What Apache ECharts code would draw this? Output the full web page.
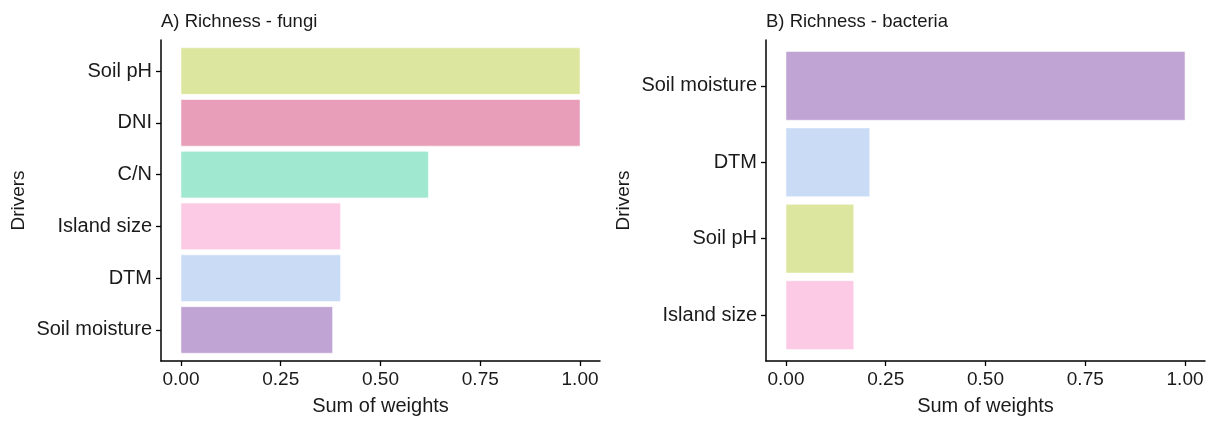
<!DOCTYPE html>
<html>
<head>
<meta charset="utf-8">
<script src="https://cdn.jsdelivr.net/npm/echarts@6/dist/echarts.min.js"></script>
<style>html,body{margin:0;padding:0;background:#fff}#c{width:1214px;height:421px}</style>
</head>
<body>
<div id="c"></div>
<script>
// ---- data ----
const fungiCategories = ['Soil pH', 'DNI', 'C/N', 'Island size', 'DTM', 'Soil moisture'];
const fungiValues = [1.0, 1.0, 0.62, 0.40, 0.40, 0.38];
const bacteriaCategories = ['Soil moisture', 'DTM', 'Soil pH', 'Island size'];
const bacteriaValues = [1.0, 0.21, 0.17, 0.17];
const xTicks = [0, 0.25, 0.5, 0.75, 1.0];
const xTickLabels = ['0.00', '0.25', '0.50', '0.75', '1.00'];

// ---- styles ----
const driverColors = {
  'Soil pH': '#dde69e',
  'DNI': '#e89db8',
  'C/N': '#a0e8cf',
  'Island size': '#fccae5',
  'DTM': '#c9dbf5',
  'Soil moisture': '#c0a4d4'
};
const FONT = '"Liberation Sans", Arial, sans-serif';
const TXT = '#1a1a1a';

function makeX(gridIndex) {
  return {
    type: 'value', gridIndex, min: -0.05, max: 1.05,
    name: 'Sum of weights', nameLocation: 'middle', nameGap: 35,
    nameTextStyle: { fontFamily: FONT, fontSize: 20, color: TXT },
    axisLine: { show: true, onZero: false, lineStyle: { color: '#000', width: 1.5 } },
    axisTick: { show: true, length: 5, lineStyle: { color: '#000', width: 1.3 }, customValues: xTicks },
    axisLabel: { fontFamily: FONT, fontSize: 19, color: TXT, margin: 9, customValues: xTicks,
      formatter: v => xTickLabels[xTicks.indexOf(v)] },
    splitLine: { show: false }
  };
}
function makeY(gridIndex, cats) {
  const idx = cats.map((_, i) => i);
  return {
    type: 'value', gridIndex, min: -0.6, max: cats.length - 0.4, inverse: true,
    name: 'Drivers', nameLocation: 'middle', nameGap: 133, nameRotate: 90,
    nameTextStyle: { fontFamily: FONT, fontSize: 19, color: TXT },
    axisLine: { show: true, onZero: false, lineStyle: { color: '#000', width: 1.5 } },
    axisTick: { show: true, length: 5, lineStyle: { color: '#000', width: 1.3 }, customValues: idx },
    axisLabel: { fontFamily: FONT, fontSize: 20, color: TXT, margin: 9, customValues: idx,
      formatter: v => cats[Math.round(v)] },
    splitLine: { show: false }
  };
}
function makeSeries(gridIndex, cats, vals) {
  return {
    type: 'custom', xAxisIndex: gridIndex, yAxisIndex: gridIndex,
    encode: { x: 0, y: 1 },
    data: vals.map((v, i) => [v, i]),
    renderItem: function (params, api) {
      const v = api.value(0), i = api.value(1);
      const p0 = api.coord([0, i]);
      const p1 = api.coord([v, i]);
      const h = Math.abs(api.size([0, 0.9])[1]);
      return {
        type: 'rect',
        shape: { x: p0[0], y: p0[1] - h / 2, width: p1[0] - p0[0], height: h },
        style: { fill: driverColors[cats[i]], stroke: 'rgba(255,255,255,0.55)', lineWidth: 1 }
      };
    }
  };
}

const chart = echarts.init(document.getElementById('c'), null, { renderer: 'canvas' });
chart.setOption({
  animation: false,
  backgroundColor: '#fff',
  title: [
    { text: 'A) Richness - fungi', left: 161, top: 12, padding: 0,
      textStyle: { fontFamily: FONT, fontSize: 18.5, fontWeight: 'normal', color: TXT } },
    { text: 'B) Richness - bacteria', left: 766, top: 12, padding: 0,
      textStyle: { fontFamily: FONT, fontSize: 18.5, fontWeight: 'normal', color: TXT } }
  ],
  grid: [
    { left: 161, top: 40, width: 439, height: 328, containLabel: false },
    { left: 766, top: 40, width: 439, height: 328, containLabel: false }
  ],
  xAxis: [makeX(0), makeX(1)],
  yAxis: [makeY(0, fungiCategories), makeY(1, bacteriaCategories)],
  series: [
    makeSeries(0, fungiCategories, fungiValues),
    makeSeries(1, bacteriaCategories, bacteriaValues)
  ]
});
</script>
</body>
</html>
